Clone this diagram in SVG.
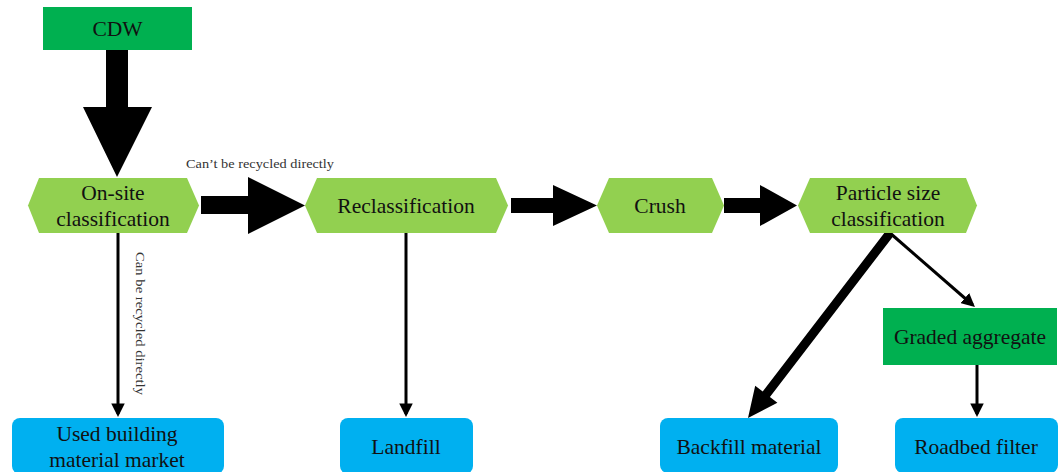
<svg xmlns="http://www.w3.org/2000/svg" width="1062" height="472" viewBox="0 0 1062 472" font-family="'Liberation Serif', 'Times New Roman', serif">
<style>
  text { font-family: "Liberation Serif", "Times New Roman", serif; }
  .t { font-size: 21.5px; fill: #111; text-anchor: middle; }
  .s { font-size: 13px; fill: #333; }
  .hex { fill: #92D050; }
  .dg { fill: #00B050; }
  .bl { fill: #00B0F0; }
  .ln { stroke: #000; stroke-width: 3; fill: none; }
  .fat { fill: #000; }
</style>
<defs>
  <marker id="ah" viewBox="0 0 10 10" refX="7.8" refY="5" markerWidth="4.5" markerHeight="4.5" orient="auto" markerUnits="strokeWidth">
    <path d="M0,0 L10,5 L0,10 z" fill="#000"/>
  </marker>
</defs>
<rect width="1062" height="472" fill="#fff"/>

<g id="connectors">
  <polygon class="fat" points="106,50 128,50 128,107 152,107 117,177 83,107 106,107"/>
  <polygon class="fat" points="201,196 248,196 248,177 305,205.5 248,234 248,214 201,214"/>
  <polygon class="fat" points="511,198 553,198 553,185 597,205.5 553,226 553,213 511,213"/>
  <polygon class="fat" points="724,198 760,198 760,185 797,205.5 760,226 760,213 724,213"/>
  <polygon class="fat" points="893.6,235.7 769.9,396.9 777.4,402.7 748,418 755.2,385.7 762.7,391.5 886.4,230.3"/>
  <line class="ln" x1="118" y1="233" x2="118" y2="414" marker-end="url(#ah)"/>
  <line class="ln" x1="406" y1="233" x2="406" y2="414" marker-end="url(#ah)"/>
  <line class="ln" x1="890" y1="233" x2="972.7" y2="305" marker-end="url(#ah)"/>
  <line class="ln" x1="977" y1="365" x2="977" y2="414" marker-end="url(#ah)"/>
  <text class="s" x="186" y="168" textLength="148" lengthAdjust="spacingAndGlyphs">Can’t be recycled directly</text>
  <text class="s" transform="translate(136,252) rotate(90)" x="0" y="0" textLength="143" lengthAdjust="spacingAndGlyphs">Can be recycled directly</text>
</g>

<g id="cdw">
  <rect class="dg" x="43" y="7" width="149" height="43"/>
  <text class="t" x="117.5" y="36">CDW</text>
</g>

<g id="onsite">
  <polygon class="hex" points="28,205.5 39,178 187,178 199,205.5 187,233 39,233"/>
  <text class="t" x="113" y="200">On-site</text>
  <text class="t" x="113" y="226">classification</text>
</g>

<g id="reclassification">
  <polygon class="hex" points="305,205.5 317,178 496,178 508,205.5 496,233 317,233"/>
  <text class="t" x="406" y="213">Reclassification</text>
</g>

<g id="crush">
  <polygon class="hex" points="597,205.5 609,178 712,178 724,205.5 712,233 609,233"/>
  <text class="t" x="660" y="213">Crush</text>
</g>

<g id="particle">
  <polygon class="hex" points="798,205.5 810,178 966,178 977,205.5 966,233 810,233"/>
  <text class="t" x="888" y="200">Particle size</text>
  <text class="t" x="888" y="226">classification</text>
</g>

<g id="graded">
  <rect class="dg" x="883" y="308" width="174" height="57"/>
  <text class="t" x="970" y="344">Graded aggregate</text>
</g>

<g id="used">
  <rect class="bl" x="12" y="418" width="212" height="56" rx="8"/>
  <text class="t" x="117" y="441">Used building</text>
  <text class="t" x="117" y="467">material market</text>
</g>

<g id="landfill">
  <rect class="bl" x="340" y="418" width="133" height="56" rx="8"/>
  <text class="t" x="406" y="454">Landfill</text>
</g>

<g id="backfill">
  <rect class="bl" x="660" y="418" width="178" height="55" rx="8"/>
  <text class="t" x="749" y="454">Backfill material</text>
</g>

<g id="roadbed">
  <rect class="bl" x="895" y="418" width="163" height="55" rx="8"/>
  <text class="t" x="976" y="454">Roadbed filter</text>
</g>
</svg>
